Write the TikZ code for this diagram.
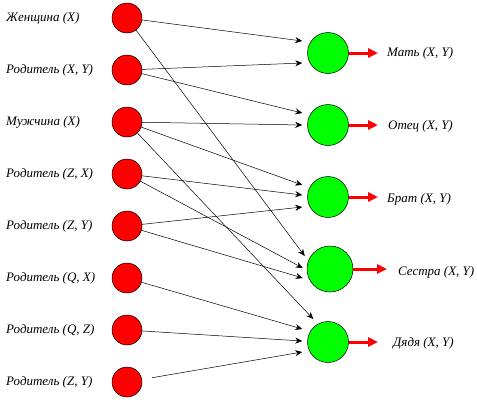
\documentclass[tikz,border=0pt]{standalone}
\usepackage{fontspec}
\setmainfont{Liberation Serif}
\usetikzlibrary{arrows.meta}

\begin{document}
\begin{tikzpicture}[x=1pt,y=-1pt,
  lit/.style={circle,draw=black,line width=0.5pt,fill=red,minimum size=30pt,inner sep=0pt},
  res/.style={circle,draw=black,line width=0.5pt,fill=green,minimum size=41pt,inner sep=0pt},
  txt/.style={font=\fontsize{13}{15}\selectfont\itshape,inner sep=0pt,anchor=west},
  link/.style={-{Stealth[length=7pt,width=6pt]},line width=0.5pt},
  outarr/.style={-{Triangle[length=10pt,width=9pt]},red,line width=3pt}]
  \def\dy{52}
  \useasboundingbox (0,0) rectangle (477,402);

  % facts
  \foreach \lbl [count=\i] in {{Женщина (X)}, {Родитель (X, Y)}, {Мужчина (X)},
      {Родитель (Z, X)}, {Родитель (Z, Y)}, {Родитель (Q, X)}, {Родитель (Q, Z)},
      {Родитель (Z, Y)}} {
    \node[lit] (l\i) at (127,{18+(\i-1)*\dy}) {};
    \node[txt] (t\i) at (6,{18+(\i-1)*\dy}) {\lbl};
  }

  % rules
  \node[res] (mat) at (328,53) {};
  \node[res] (otec) at (328,125) {};
  \node[res] (brat) at (328,197) {};
  \node[res,minimum size=46pt] (sestra) at (330,269) {};
  \node[res] (dyadya) at (328,342) {};

  \node[txt] (matl) at (387,53) {Мать (X, Y)};
  \node[txt] (otecl) at (388,126) {Отец (X, Y)};
  \node[txt] (bratl) at (387,199) {Брат (X, Y)};
  \node[txt] (sestral) at (398,272) {Сестра (X, Y)};
  \node[txt] (dyadyal) at (393,343) {Дядя (X, Y)};

  \draw[outarr,shorten >=9pt] (mat.east) -- (mat.east -| matl.west);
  \draw[outarr,shorten >=10pt] (otec.east) -- (otec.east -| otecl.west);
  \draw[outarr,shorten >=9pt] (brat.east) -- (brat.east -| bratl.west);
  \draw[outarr,shorten >=11pt] (sestra.east) -- (sestra.east -| sestral.west);
  \draw[outarr,shorten >=15pt] (dyadya.east) -- (dyadya.east -| dyadyal.west);

  \foreach \s/\dst/\dx/\ddy in {1/mat/-5/12, 2/mat/-5/-10, 2/otec/-5/12, 3/otec/-5/0,
      3/brat/-5/12, 4/brat/-5/2, 5/brat/-5/-10, 1/sestra/-2/13, 4/sestra/-4/1,
      5/sestra/-4/-9, 3/dyadya/6/23, 6/dyadya/-5/13, 7/dyadya/-5/1}
    \draw[link] (l\s) -- ([xshift=\dx pt,yshift=\ddy pt]\dst.west);
  \draw[link,shorten <=10pt] (l8) -- ([xshift=-5pt,yshift=-10pt]dyadya.west);
\end{tikzpicture}
\end{document}
